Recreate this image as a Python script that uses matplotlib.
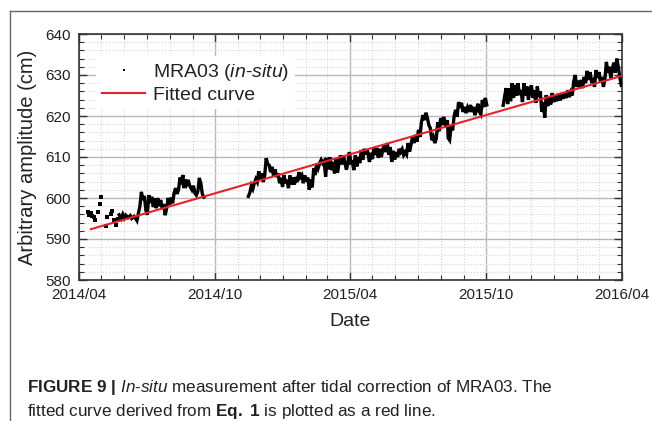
import numpy as np
import pandas as pd
import matplotlib
matplotlib.use("Agg")
import matplotlib.pyplot as plt
import matplotlib.dates as mdates
from matplotlib.lines import Line2D

plt.rcParams['font.family'] = ['Liberation Sans', 'DejaVu Sans']
plt.rcParams['mathtext.fontset'] = 'custom'
plt.rcParams['mathtext.rm'] = 'Liberation Sans'
plt.rcParams['mathtext.it'] = 'Liberation Sans:italic'
plt.rcParams['mathtext.bf'] = 'Liberation Sans:bold'

start = pd.Timestamp('2014-04-01')

# sparse early readings (days since 2014-04-01, cm)
early_days = [12, 14, 16, 18, 20, 22, 25, 28, 30, 36, 38, 43, 45, 47, 50, 52]
early_vals = [596.5, 595.8, 596.3, 595.6, 595.3, 594.6, 596.7, 598.6, 600.3,
              593.2, 595.4, 596.0, 596.8, 594.7, 593.5, 595.0]

# continuous record, spring to autumn 2014
seg1_days = [54, 57, 59, 61, 63, 66, 69, 71, 74, 77, 78, 80, 82, 84, 86, 88,
             90, 92, 94, 96, 98, 100, 102, 104, 106, 108, 110, 112, 114, 116,
             118, 120, 122, 124, 126, 128, 130, 132, 134, 136, 138, 140, 141,
             143, 145, 147, 149, 152, 154, 156, 158, 160, 162, 164, 166, 168]
seg1_vals = [595.9, 595.0, 596.0, 595.1, 595.8, 595.2, 595.7, 595.0, 595.5,
             594.8, 594.5, 596.3, 598.0, 601.5, 599.5, 600.5, 597.0, 595.9,
             600.7, 598.8, 600.3, 597.8, 599.9, 597.5, 600.0, 598.0, 599.5,
             597.6, 598.5, 595.8, 597.5, 600.0, 598.4, 600.1, 598.7, 601.2,
             602.4, 601.0, 602.0, 605.0, 604.2, 605.6, 602.4, 604.5, 603.4,
             604.4, 603.0, 602.0, 603.0, 601.2, 600.7, 601.6, 604.9, 603.6,
             601.0, 600.2]

# continuous record, November 2014 to September 2015
seg2_days = [228, 230, 232, 234, 236, 238, 240, 242, 244, 246, 248, 250, 252,
             254, 256, 258, 260, 262, 264, 266, 268, 270, 272, 274, 276, 278,
             280, 282, 284, 286, 288, 290, 292, 294, 296, 298, 300, 302, 304,
             306, 308, 310, 312, 314, 316, 318, 320, 322, 324, 326, 328, 330,
             332, 334, 336, 338, 340, 342, 344, 346, 348, 350, 352, 354, 356,
             358, 360, 362, 364, 366, 368, 370, 372, 374, 376, 378, 380, 382,
             384, 386, 388, 391, 393, 395, 397, 399, 401, 403, 405, 407, 409,
             411, 413, 415, 417, 419, 421, 423, 425, 427, 429, 431, 433, 435,
             437, 439, 441, 443, 445, 447, 449, 451, 453, 455, 457, 459, 461,
             463, 465, 467, 469, 471, 473, 475, 477, 479, 481, 483, 485, 487,
             489, 491, 494, 496, 497, 499, 501, 503, 505, 507, 509, 511, 513,
             515, 517, 519, 521, 523, 525, 527, 529, 531, 533, 535, 537, 539,
             541, 543, 545, 547, 549]
seg2_vals = [600.4, 601.3, 603.0, 602.2, 603.6, 604.6, 603.9, 606.5, 604.5,
             606.0, 603.9, 605.5, 609.7, 608.3, 608.0, 606.3, 607.6, 605.2,
             607.0, 605.1, 606.0, 603.6, 604.9, 602.7, 605.6, 603.6, 604.4,
             602.4, 605.5, 603.3, 605.0, 603.3, 605.1, 603.9, 606.3, 605.1,
             605.6, 603.6, 605.5, 604.0, 605.0, 602.0, 604.5, 602.6, 607.3,
             605.6, 608.4, 607.3, 608.5, 609.3, 608.5, 609.0, 605.2, 609.8,
             607.0, 609.9, 606.8, 608.8, 606.0, 609.6, 606.2, 608.5, 610.4,
             608.2, 610.3, 608.6, 606.9, 608.6, 611.2, 608.6, 608.8, 606.8,
             610.4, 607.7, 610.0, 608.5, 611.7, 609.3, 612.0, 610.6, 611.8,
             608.8, 611.0, 609.5, 612.4, 610.5, 612.2, 609.8, 612.0, 610.0,
             611.8, 613.0, 611.2, 613.4, 610.6, 612.4, 608.8, 611.5, 609.4,
             611.2, 610.0, 612.0, 611.2, 611.9, 610.5, 611.2, 610.6, 613.4,
             611.3, 613.0, 614.9, 613.4, 615.4, 613.7, 616.6, 614.9, 618.5,
             620.2, 619.0, 620.8, 619.5, 617.8, 617.0, 614.1, 614.9, 613.4,
             614.5, 618.5, 616.3, 619.5, 617.8, 619.8, 617.3, 619.0, 614.6,
             614.1, 617.8, 616.5, 620.0, 621.5, 619.8, 623.4, 622.0, 623.2,
             621.0, 622.2, 620.7, 622.0, 621.0, 622.7, 621.0, 622.2, 620.2,
             621.5, 623.0, 621.0, 620.4, 623.9, 622.2, 624.4, 622.7]

# continuous record, October 2015 to March 2016
seg3_days = [571, 573, 575, 577, 579, 581, 583, 585, 587, 589, 591, 593, 595,
             597, 599, 601, 603, 605, 607, 609, 611, 613, 615, 617, 619, 621,
             623, 625, 627, 629, 631, 633, 635, 637, 639, 641, 643, 645, 648,
             650, 652, 654, 656, 658, 660, 662, 664, 666, 668, 670, 672, 674,
             676, 678, 680, 682, 684, 686, 688, 690, 692, 694, 696, 698, 700,
             702, 704, 706, 708, 710, 712, 714, 716, 718, 720, 722, 724, 726,
             728, 730]
seg3_vals = [622.6, 624.8, 626.8, 622.9, 626.8, 623.6, 628.0, 624.4, 627.6,
             625.0, 628.0, 625.1, 626.3, 623.4, 628.0, 625.0, 627.2, 624.0,
             626.0, 627.5, 624.4, 626.3, 623.2, 627.2, 624.6, 626.0, 621.0,
             623.4, 619.6, 625.1, 622.4, 624.5, 622.8, 625.6, 623.4, 624.9,
             623.6, 625.4, 623.8, 625.6, 624.2, 625.6, 624.4, 626.3, 624.6,
             625.8, 625.0, 628.4, 630.0, 627.1, 628.6, 627.0, 628.8, 626.8,
             629.5, 628.0, 631.0, 628.8, 630.7, 628.5, 628.8, 627.1, 631.2,
             629.3, 630.7, 628.3, 629.5, 627.1, 629.0, 633.2, 630.5, 632.0,
             629.3, 631.5, 633.0, 630.6, 634.0, 632.0, 629.5, 627.5]

# linear fit (Eq. 1) end points
fit_days = [16, 731]
fit_vals = [592.4, 629.8]


def to_dates(days):
    return start + pd.to_timedelta(days, unit='D')


fig = plt.figure(figsize=(6.52, 4.21), dpi=100)
ax = fig.add_axes([79 / 652, 141 / 421, 543 / 652, 246 / 421])

ax.plot(to_dates(early_days), early_vals, 's', color='black', markersize=2.8,
        markeredgewidth=0, linestyle='none', label=r'MRA03 ($\mathit{in}$-$\mathit{situ}$)',
        zorder=3)
for d, v in [(seg1_days, seg1_vals), (seg2_days, seg2_vals), (seg3_days, seg3_vals)]:
    ax.plot(to_dates(d), v, color='black', linewidth=2.4, solid_joinstyle='miter',
            zorder=3)
ax.plot(to_dates(fit_days), fit_vals, color='#e8202a', linewidth=1.5,
        label='Fitted curve', zorder=4)

ax.set_xlim(pd.Timestamp('2014-04-01'), pd.Timestamp('2016-04-01'))
ax.set_ylim(580, 640)
ax.xaxis.set_major_locator(mdates.MonthLocator(bymonth=[4, 10]))
ax.xaxis.set_minor_locator(mdates.MonthLocator())
ax.xaxis.set_major_formatter(mdates.DateFormatter('%Y/%m'))
ax.yaxis.set_major_locator(plt.MultipleLocator(10))
ax.yaxis.set_minor_locator(plt.MultipleLocator(2))

ax.set_axisbelow(True)
ax.grid(which='major', color='#b8b8b8', linewidth=1.0)
ax.grid(which='minor', color='#d4d4d4', linestyle=':', linewidth=0.8)

ax.tick_params(which='both', direction='in', top=True, right=True,
               colors='#333333', labelcolor='#222222', labelsize=11)
ax.tick_params(which='major', length=6, width=1.0, pad=6)
ax.tick_params(which='minor', length=3.5, width=0.8)
for s in ax.spines.values():
    s.set_color('#333333')
    s.set_linewidth(1.2)

ax.set_xlabel('Date', fontsize=14, color='#222222', labelpad=8)
ax.set_ylabel('Arbitrary amplitude (cm)', fontsize=14.5, color='#222222', labelpad=6)

leg = ax.legend(loc='upper left', bbox_to_anchor=(0.032, 0.91), borderaxespad=0,
                fontsize=14, frameon=True, facecolor='white', edgecolor='none',
                framealpha=1, fancybox=False, handlelength=2.2, handletextpad=0.4,
                labelspacing=0.15, borderpad=0.3, markerscale=0.7)
for t in leg.get_texts():
    t.set_color('#222222')

# panel frame
fig.add_artist(Line2D([10 / 652, 1], [1 - 11 / 421] * 2, transform=fig.transFigure,
                      color='#666666', linewidth=1.0))
fig.add_artist(Line2D([10 / 652] * 2, [0, 1 - 11 / 421], transform=fig.transFigure,
                      color='#666666', linewidth=1.0))

cap1 = (r'$\mathbf{FIGURE}$ $\mathbf{9}$ $\mathbf{|}$ $\mathit{In}$-$\mathit{situ}$ '
        r'measurement after tidal correction of MRA03. The')
cap2 = r'fitted curve derived from $\mathbf{Eq.}$ $\mathbf{1}$ is plotted as a red line.'
fig.text(27 / 652, 1 - 392 / 421, cap1, fontsize=12.3, color='#222222', va='baseline')
fig.text(27 / 652, 1 - 416 / 421, cap2, fontsize=12.3, color='#222222', va='baseline')

fig.savefig('out.png', dpi=100)
